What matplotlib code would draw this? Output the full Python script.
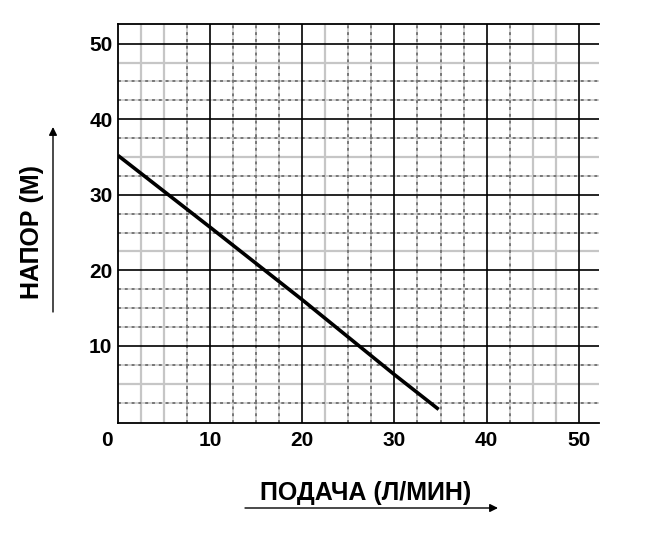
import matplotlib.pyplot as plt
from matplotlib.transforms import ScaledTranslation

# flow (l/min) vs head (m)
flow = [0, 10, 20, 30, 34.8]
head = [35.2, 25.7, 16.1, 6.2, 1.6]

x_ticks = [0, 10, 20, 30, 40, 50]
y_ticks = [10, 20, 30, 40, 50]

# minor grid lines: "d" = dotted, "l" = light solid
x_minor = [(2.5, "l"), (5, "l"), (7.5, "d"), (12.5, "d"), (15, "d"), (17.5, "d"),
           (22.5, "l"), (25, "d"), (27.5, "d"), (32.5, "d"), (35, "d"), (37.5, "d"),
           (42.5, "d"), (45, "l"), (47.5, "l")]
y_minor = [(2.5, "d"), (5, "l"), (7.5, "d"), (12.5, "d"), (15, "d"), (17.5, "d"),
           (22.5, "l"), (25, "d"), (27.5, "d"), (32.5, "d"), (35, "l"), (37.5, "d"),
           (42.5, "d"), (45, "d"), (47.5, "l")]

W, H = 659, 535
fig = plt.figure(figsize=(W / 100, H / 100), dpi=100)
ax = fig.add_axes([118 / W, 1 - 423 / H, (599 - 118) / W, (423 - 24) / H])

ax.set_xlim(0, 52.2)
ax.set_ylim(-0.2, 52.6)


def grid_line(func, v, kind):
    if kind == "l":
        func(v, color="#c6c6c6", lw=1.6, zorder=1)
    else:
        func(v, color="#d2d2d2", lw=1.4, zorder=1)
        func(v, color="#777777", lw=1.4, linestyle=(0, (1.5, 2)), zorder=2)


for v, k in x_minor:
    grid_line(ax.axvline, v, k)
for v, k in y_minor:
    grid_line(ax.axhline, v, k)
for v in x_ticks[1:]:
    ax.axvline(v, color="black", lw=1.2, zorder=3)
for v in y_ticks:
    ax.axhline(v, color="black", lw=1.2, zorder=3)

ax.plot(flow, head, color="black", lw=2.6, solid_capstyle="butt", zorder=5)

ax.spines["right"].set_visible(False)
for s in ["left", "top", "bottom"]:
    ax.spines[s].set_linewidth(1.3)
    ax.spines[s].set_zorder(4)

font = {"family": "Liberation Sans", "weight": "bold"}
ax.set_xticks(x_ticks)
ax.set_xticklabels([str(t) for t in x_ticks], fontdict=font, fontsize=15)
ax.set_yticks(y_ticks)
ax.set_yticklabels([str(t) for t in y_ticks], fontdict=font, fontsize=15)
ax.tick_params(axis="x", length=0, pad=6)
ax.tick_params(axis="y", length=0, pad=4)

# the "0" sits a little left of the corner
lbl0 = ax.get_xticklabels()[0]
lbl0.set_transform(lbl0.get_transform() + ScaledTranslation(-11 / 100, 0, fig.dpi_scale_trans))

fig.text(366 / W, 1 - 493 / H, "ПОДАЧА (Л/МИН)", ha="center", va="center",
         fontsize=18, **font)
fig.text(32 / W, 1 - 232 / H, "НАПОР (М)", ha="center", va="center",
         rotation=90, fontsize=18, **font)

arrow = dict(arrowstyle="-|>", color="black", lw=1.0, mutation_scale=12,
             shrinkA=0, shrinkB=0)
ax.annotate("", xy=(498 / W, 1 - 508 / H), xytext=(245 / W, 1 - 508 / H),
            xycoords="figure fraction", arrowprops=arrow)
ax.annotate("", xy=(53 / W, 1 - 127 / H), xytext=(53 / W, 1 - 312 / H),
            xycoords="figure fraction", arrowprops=arrow)

fig.savefig("out.png", dpi=100, facecolor="white")
